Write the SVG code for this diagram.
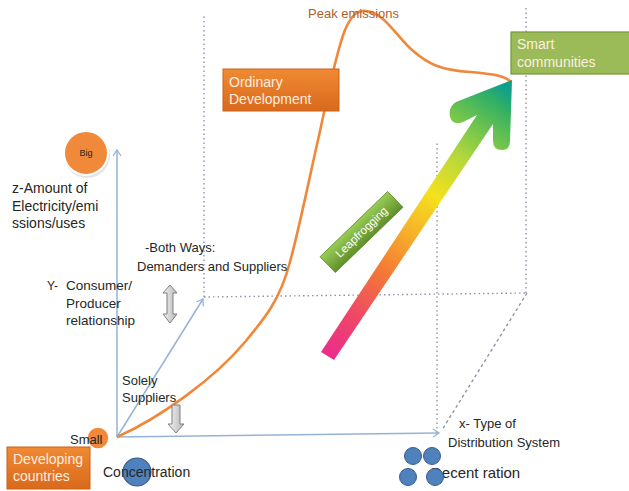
<svg xmlns="http://www.w3.org/2000/svg" width="629" height="491" viewBox="0 0 629 491">
<defs>
<style>
.t{font-family:"Liberation Sans",Arial,sans-serif;fill:#262626}
.w{font-family:"Liberation Sans",Arial,sans-serif;fill:#fdeee0;font-size:14px}
.ax{stroke:#95b3d7;stroke-width:1.5;fill:none}
.dot{stroke:#8c95a8;stroke-width:1.4;stroke-dasharray:1.5 3;fill:none}
.garr{fill:url(#greyG);stroke:#7f7f7f;stroke-width:1}
</style>
<marker id="ah" markerWidth="10" markerHeight="10" refX="7" refY="5" orient="auto" markerUnits="userSpaceOnUse">
<path d="M1,1 L7,5 L1,9" fill="none" stroke="#95b3d7" stroke-width="1.3"/>
</marker>
<linearGradient id="rainbow" gradientUnits="userSpaceOnUse" x1="325" y1="356" x2="507" y2="88">
<stop offset="0" stop-color="#ec2c8e"/>
<stop offset="0.15" stop-color="#ef4668"/>
<stop offset="0.32" stop-color="#f47a35"/>
<stop offset="0.47" stop-color="#f6b32a"/>
<stop offset="0.6" stop-color="#f4e11c"/>
<stop offset="0.74" stop-color="#b6d83a"/>
<stop offset="0.85" stop-color="#6ec44e"/>
<stop offset="0.94" stop-color="#34b063"/>
<stop offset="1" stop-color="#0f9f8c"/>
</linearGradient>
<linearGradient id="greyG" x1="0" y1="0" x2="1" y2="0">
<stop offset="0" stop-color="#f4f4f4"/>
<stop offset="1" stop-color="#b5b5b5"/>
</linearGradient>
<linearGradient id="orangeBox" x1="0" y1="0" x2="0" y2="1">
<stop offset="0" stop-color="#f08a34"/>
<stop offset="1" stop-color="#d9691c"/>
</linearGradient>
<linearGradient id="leapG" x1="0" y1="0" x2="0" y2="1">
<stop offset="0" stop-color="#9acd55"/>
<stop offset="1" stop-color="#5f8f2c"/>
</linearGradient>
</defs>
<rect width="629" height="491" fill="#ffffff"/>

<g id="connectors">
<line class="dot" x1="204" y1="297" x2="204" y2="15"/>
<line class="dot" x1="204" y1="297" x2="527" y2="293"/>
<line class="dot" x1="526" y1="293" x2="526" y2="5"/>
<line class="dot" x1="437" y1="433" x2="437" y2="142"/>
<line x1="527" y1="293" x2="442" y2="430" stroke="#8c95a8" stroke-width="1.4" stroke-dasharray="3 3"/>
<line class="ax" x1="117" y1="437" x2="117" y2="150" marker-end="url(#ah)"/>
<line class="ax" x1="117" y1="437" x2="439" y2="433" marker-end="url(#ah)"/>
<line class="ax" x1="117" y1="437" x2="203" y2="299" marker-end="url(#ah)"/>
<path id="curve" d="M117,437 C160,418 215,378 245,342 C265,318 280,300 290,262 C300,225 310,175 318,140 C326,105 335,55 345,30 C352,14 358,10 366,11 C385,13 395,35 412,50 C428,64 440,70 470,72 C495,74 505,76 511,82" fill="none" stroke="#f0883a" stroke-width="2.6"/>
<path id="bigArrow" d="M512,80 L510,141 Q510,150 502,150 Q493,150 493,141 L493,124 L334,360 L321,352 L477,115 L463,122 Q453,126 450,117 Q448,107 456,102 Z" fill="url(#rainbow)"/>
<path id="bothArrow" class="garr" d="M170,285 L177,293 L173,293 L173,314 L177,314 L170,323 L163,314 L167,314 L167,293 L163,293 Z"/>
<path id="downArrow" class="garr" d="M172,405 L180,405 L180,424 L184,424 L176,433 L168,424 L172,424 Z"/>
</g>

<g id="peak"><text x="308" y="18" font-size="13" font-family="Liberation Sans, Arial, sans-serif" fill="#b35e2a">Peak emissions</text></g>

<g id="ordinary">
<rect x="223" y="69" width="116" height="42" fill="url(#orangeBox)" stroke="#c8621a" stroke-width="1"/>
<text class="w" x="229" y="87">Ordinary</text>
<text class="w" x="229" y="104">Development</text>
</g>

<g id="smart">
<rect x="511" y="32" width="120" height="42" fill="#9bbb59" stroke="#76943a" stroke-width="1.2"/>
<text class="w" x="517" y="49">Smart</text>
<text class="w" x="517" y="67">communities</text>
</g>

<g id="big">
<circle cx="87" cy="155" r="23" fill="#d0d0d0" opacity="0.6"/>
<circle cx="86" cy="153" r="22" fill="#f08a3a" stroke="#ffffff" stroke-width="2"/>
<text class="t" x="86" y="156" font-size="9" text-anchor="middle">Big</text>
</g>

<g id="zlabel">
<text class="t" x="12" y="193" font-size="14">z-Amount of</text>
<text class="t" x="12" y="211" font-size="14">Electricity/emi</text>
<text class="t" x="12" y="228" font-size="14">ssions/uses</text>
</g>

<g id="bothways">
<text class="t" x="145" y="252" font-size="13">-Both Ways:</text>
<text class="t" x="137" y="271" font-size="13">Demanders and Suppliers</text>
</g>

<g id="ylabel">
<text class="t" x="47" y="290" font-size="12">Y-</text>
<text class="t" x="66" y="290" font-size="13.5">Consumer/</text>
<text class="t" x="66" y="308" font-size="13.5">Producer</text>
<text class="t" x="66" y="325" font-size="13.5">relationship</text>
</g>

<g id="leapfrog" transform="translate(361.5,232) rotate(-44)">
<rect x="-47" y="-11" width="94" height="22" fill="url(#leapG)" stroke="#5b8a2a" stroke-width="0.8"/>
<text x="0" y="4" text-anchor="middle" font-family="Liberation Sans, Arial, sans-serif" font-size="11.5" fill="#ffffff">Leapfrogging</text>
</g>

<g id="solely">
<text class="t" x="122" y="385" font-size="13">Solely</text>
<text class="t" x="122" y="402" font-size="13">Suppliers</text>
</g>

<g id="small">
<circle cx="98" cy="438" r="11" fill="#f08a3a" stroke="#ffffff" stroke-width="1.5"/>
<text class="t" x="70" y="444" font-size="13">Small</text>
</g>

<g id="developing">
<rect x="7" y="447" width="83" height="42" fill="url(#orangeBox)" stroke="#c8621a" stroke-width="1"/>
<text class="w" x="13" y="464">Developing</text>
<text class="w" x="13" y="481">countries</text>
</g>

<g id="concentration">
<circle cx="137" cy="472" r="14" fill="#4f81bd" stroke="#385d8a" stroke-width="1.2"/>
<text class="t" x="103" y="477" font-size="14">Concentration</text>
</g>

<g id="xlabel">
<text class="t" x="459" y="428" font-size="13">x- Type of</text>
<text class="t" x="448" y="447" font-size="13">Distribution System</text>
</g>

<g id="decentration">
<text class="t" x="431" y="478" font-size="15">Decent ration</text>
<circle cx="413" cy="456" r="8.5" fill="#4f81bd" stroke="#385d8a" stroke-width="1"/>
<circle cx="432" cy="456" r="8.5" fill="#4f81bd" stroke="#385d8a" stroke-width="1"/>
<circle cx="408" cy="477" r="8.5" fill="#4f81bd" stroke="#385d8a" stroke-width="1"/>
<circle cx="435" cy="477" r="8.5" fill="#4f81bd" stroke="#385d8a" stroke-width="1"/>
</g>
</svg>
